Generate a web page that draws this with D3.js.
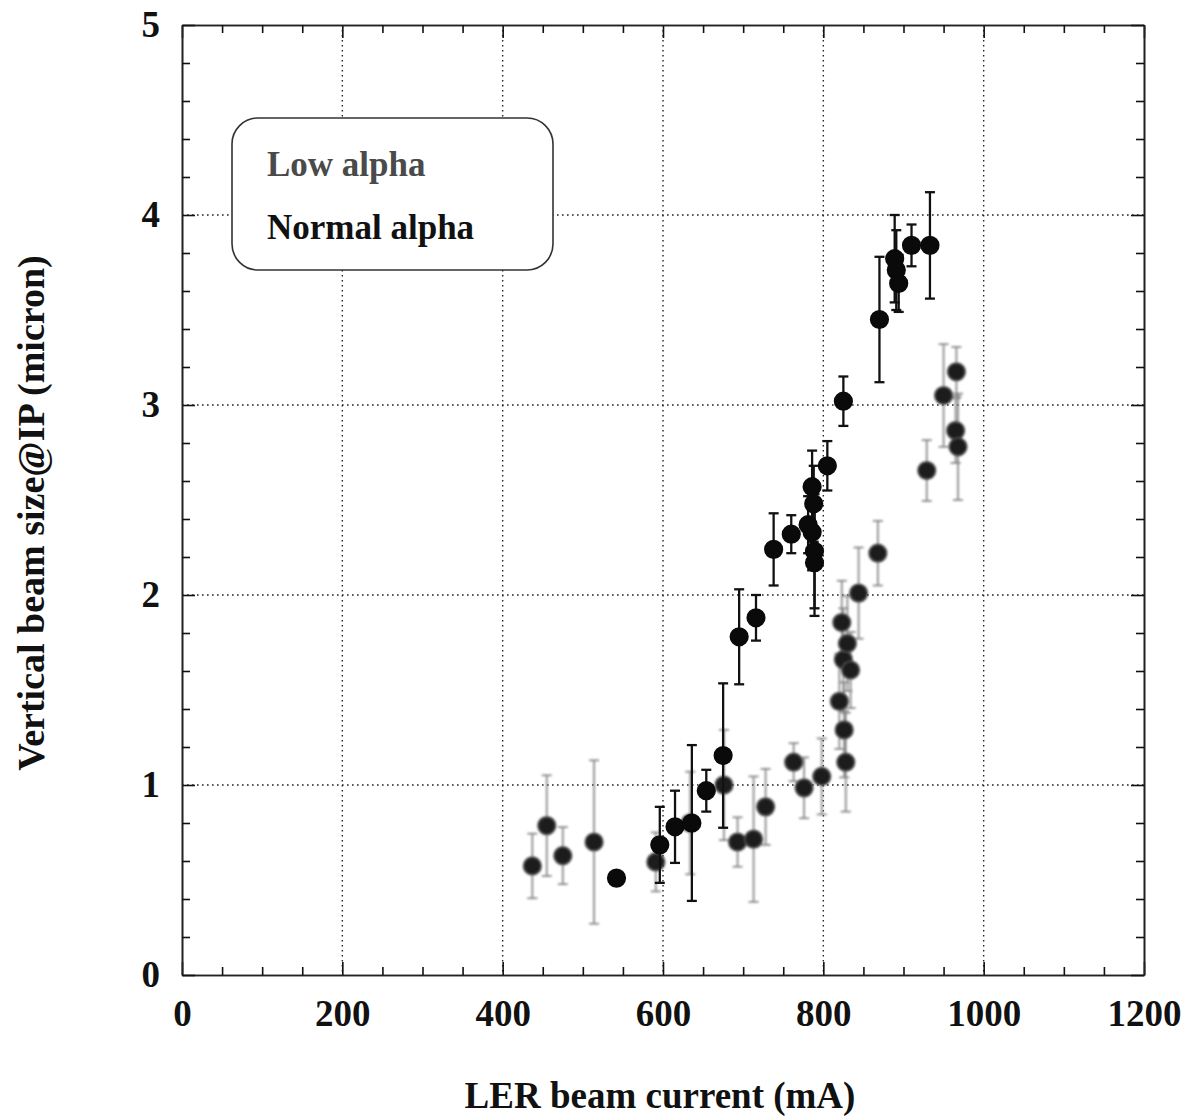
<!DOCTYPE html>
<html>
<head>
<meta charset="utf-8">
<script src="https://cdn.jsdelivr.net/npm/d3@7"></script>
<style>
  body { margin: 0; background: #fff; }
  svg { display: block; }
  text { font-family: "Liberation Serif", "Times New Roman", serif; font-weight: bold; }
</style>
</head>
<body>
<svg id="chart" width="1184" height="1120"></svg>
<script>

// normal alpha (black points)
let normal_current = [542, 596, 615, 636, 654, 675, 695, 716, 738, 760, 786, 788, 781, 786, 789, 789, 805, 825, 870, 889, 891, 894, 910, 933]
let normal_size    = [0.51, 0.685, 0.78, 0.80, 0.97, 1.155, 1.78, 1.88, 2.24, 2.32, 2.57, 2.48, 2.37, 2.33, 2.23, 2.17, 2.68, 3.02, 3.45, 3.77, 3.71, 3.64, 3.84, 3.84]
let normal_err     = [0, 0.2, 0.19, 0.41, 0.11, 0.38, 0.25, 0.12, 0.19, 0.10, 0.19, 0.2, 0.15, 0.2, 0.3, 0.28, 0.13, 0.13, 0.33, 0.23, 0.21, 0.15, 0.11, 0.28]

// low alpha (grey points)
let low_current = [437, 455, 475, 514, 591, 634, 676, 693, 713, 728, 763, 776, 798, 820, 823, 825, 826, 828, 830, 834, 844, 868, 929, 950, 965, 966, 968]
let low_size    = [0.574, 0.786, 0.628, 0.70, 0.595, 0.80, 1.0, 0.70, 0.715, 0.885, 1.12, 0.985, 1.045, 1.44, 1.855, 1.66, 1.29, 1.12, 1.745, 1.605, 2.01, 2.22, 2.655, 3.05, 2.865, 3.175, 2.78]
let low_err     = [0.17, 0.265, 0.15, 0.43, 0.155, 0.27, 0.29, 0.13, 0.33, 0.2, 0.1, 0.16, 0.2, 0.25, 0.22, 0.27, 0.25, 0.26, 0.25, 0.2, 0.24, 0.17, 0.16, 0.27, 0.17, 0.13, 0.28]

let x_major = [0, 200, 400, 600, 800, 1000, 1200]
let y_major = [0, 1, 2, 3, 4, 5]
let legend_labels = ["Low alpha", "Normal alpha"]

let plot_left = 182, plot_right = 1144, plot_top = 25, plot_bottom = 975

let x = d3.scaleLinear().domain([0, 1200]).range([plot_left, plot_right])
let y = d3.scaleLinear().domain([0, 5]).range([plot_bottom, plot_top])

let svg = d3.select('#chart')

let x_minor = d3.range(0, 1201, 50).filter(d => d % 200 != 0)
let y_minor = d3.range(0, 5.01, 0.2).map(d => +d.toFixed(1)).filter(d => Math.abs(d - Math.round(d)) > 0.01)

// dotted grid
svg.append('g').selectAll('line')
  .data(x_major.slice(1, -1))
  .join('line')
  .attr('x1', d => x(d)).attr('x2', d => x(d))
  .attr('y1', plot_top).attr('y2', plot_bottom)
  .attr('stroke', '#222').attr('stroke-width', 1.4)
  .attr('stroke-dasharray', '1.6,3.4')

svg.append('g').selectAll('line')
  .data(y_major.slice(1, -1))
  .join('line')
  .attr('x1', plot_left).attr('x2', plot_right)
  .attr('y1', d => y(d)).attr('y2', d => y(d))
  .attr('stroke', '#222').attr('stroke-width', 1.4)
  .attr('stroke-dasharray', '1.6,3.4')

// axes with inward ticks
function style_axis(g) {
  g.select('.domain').attr('stroke', '#222').attr('stroke-width', 1.6)
  g.selectAll('.tick line').attr('stroke', '#111').attr('stroke-width', 1.6)
  g.selectAll('.tick text').attr('font-family', '"Liberation Serif", serif')
    .attr('font-weight', 'bold').attr('font-size', 37).attr('fill', '#111')
}

svg.append('g').attr('transform', `translate(0,${plot_bottom})`)
  .call(d3.axisBottom(x).tickValues(x_major).tickSize(-13).tickPadding(25).tickSizeOuter(0).tickFormat(d3.format('d')))
  .call(style_axis)
svg.append('g').attr('transform', `translate(0,${plot_bottom})`)
  .call(d3.axisBottom(x).tickValues(x_minor).tickSize(-8).tickSizeOuter(0).tickFormat(''))
  .call(style_axis)
svg.append('g').attr('transform', `translate(0,${plot_top})`)
  .call(d3.axisTop(x).tickValues(x_major).tickSize(-13).tickSizeOuter(0).tickFormat(''))
  .call(style_axis)
svg.append('g').attr('transform', `translate(0,${plot_top})`)
  .call(d3.axisTop(x).tickValues(x_minor).tickSize(-8).tickSizeOuter(0).tickFormat(''))
  .call(style_axis)

svg.append('g').attr('transform', `translate(${plot_left},0)`)
  .call(d3.axisLeft(y).tickValues(y_major).tickSize(-13).tickPadding(22).tickSizeOuter(0).tickFormat(d3.format('d')))
  .call(style_axis)
svg.append('g').attr('transform', `translate(${plot_left},0)`)
  .call(d3.axisLeft(y).tickValues(y_minor).tickSize(-8).tickSizeOuter(0).tickFormat(''))
  .call(style_axis)
svg.append('g').attr('transform', `translate(${plot_right},0)`)
  .call(d3.axisRight(y).tickValues(y_major).tickSize(-13).tickSizeOuter(0).tickFormat(''))
  .call(style_axis)
svg.append('g').attr('transform', `translate(${plot_right},0)`)
  .call(d3.axisRight(y).tickValues(y_minor).tickSize(-8).tickSizeOuter(0).tickFormat(''))
  .call(style_axis)

// blur for the grey scanned points
let defs = svg.append('defs')
defs.append('filter').attr('id', 'soft')
  .append('feGaussianBlur').attr('stdDeviation', 0.8)

function draw_series(xs, ys, errs, opts) {
  let data = xs.map((d, i) => ({ x: d, y: ys[i], e: errs[i] }))
  let g = svg.append('g').attr('filter', opts.filter)
  let bars = data.filter(d => d.e > 0)
  g.selectAll('line.bar').data(bars).join('line').attr('class', 'bar')
    .attr('x1', d => x(d.x)).attr('x2', d => x(d.x))
    .attr('y1', d => y(d.y + d.e)).attr('y2', d => y(d.y - d.e))
    .attr('stroke', opts.bar).attr('stroke-width', opts.bar_width)
  g.selectAll('line.cap-top').data(bars).join('line').attr('class', 'cap-top')
    .attr('x1', d => x(d.x) - 5).attr('x2', d => x(d.x) + 5)
    .attr('y1', d => y(d.y + d.e)).attr('y2', d => y(d.y + d.e))
    .attr('stroke', opts.bar).attr('stroke-width', opts.bar_width)
  g.selectAll('line.cap-bot').data(bars).join('line').attr('class', 'cap-bot')
    .attr('x1', d => x(d.x) - 5).attr('x2', d => x(d.x) + 5)
    .attr('y1', d => y(d.y - d.e)).attr('y2', d => y(d.y - d.e))
    .attr('stroke', opts.bar).attr('stroke-width', opts.bar_width)
  g.selectAll('circle').data(data).join('circle')
    .attr('cx', d => x(d.x)).attr('cy', d => y(d.y)).attr('r', 8.8)
    .attr('fill', opts.fill).attr('stroke', opts.stroke).attr('stroke-width', 1.6)
}

draw_series(low_current, low_size, low_err,
  { fill: '#1e1e1e', stroke: '#4a4a4a', bar: '#858585', bar_width: 1.7, filter: 'url(#soft)' })
draw_series(normal_current, normal_size, normal_err,
  { fill: '#0a0a0a', stroke: '#0a0a0a', bar: '#111', bar_width: 2.3, filter: null })

// legend
svg.append('rect')
  .attr('x', 232).attr('y', 118).attr('width', 321).attr('height', 152)
  .attr('rx', 26).attr('ry', 26)
  .attr('fill', 'white').attr('stroke', '#333').attr('stroke-width', 1.6)

svg.selectAll('text.legend').data(legend_labels).join('text').attr('class', 'legend')
  .attr('x', 267).attr('y', (d, i) => 176 + i * 63)
  .attr('font-size', 35).attr('fill', (d, i) => i == 0 ? '#4a4a4a' : '#111')
  .text(d => d)

// axis titles
svg.append('text')
  .attr('x', (plot_left + plot_right) / 2 - 3).attr('y', 1108)
  .attr('text-anchor', 'middle').attr('font-size', 37).attr('fill', '#111')
  .text('LER beam current (mA)')

svg.append('text')
  .attr('transform', 'translate(44,513) rotate(-90)')
  .attr('text-anchor', 'middle').attr('font-size', 38).attr('fill', '#111')
  .text('Vertical beam size@IP (micron)')

</script>
</body>
</html>
